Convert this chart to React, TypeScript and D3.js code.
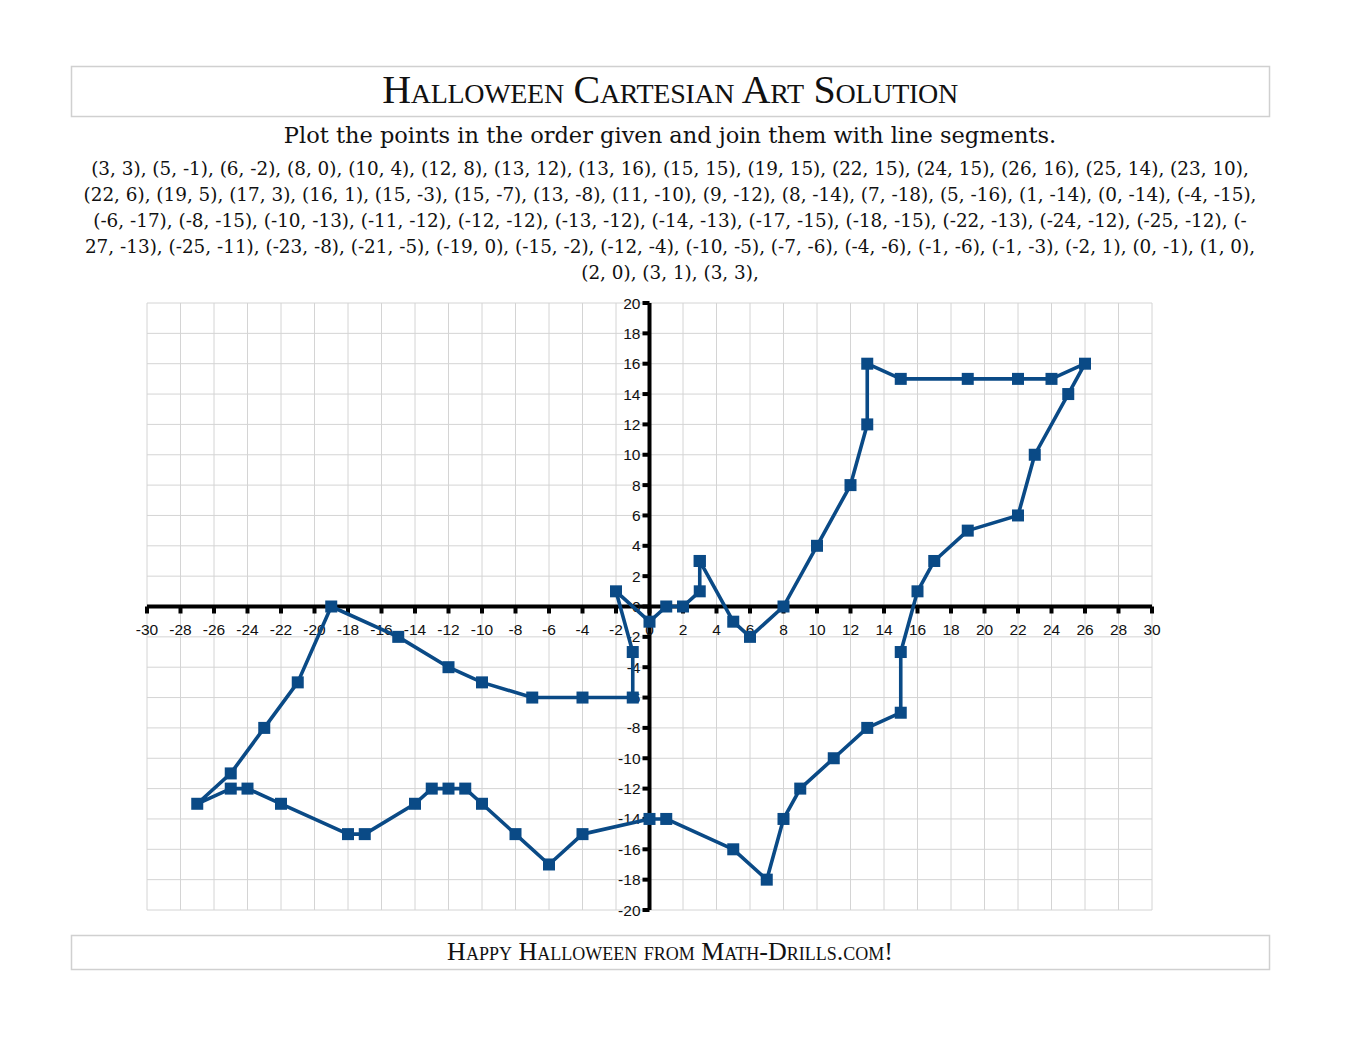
import * as d3 from 'd3';

// points in plotting order (x, y)
const pointsX = [3, 5, 6, 8, 10, 12, 13, 13, 15, 19, 22, 24, 26, 25, 23, 22, 19, 17, 16, 15, 15, 13, 11, 9, 8, 7, 5, 1, 0, -4, -6, -8, -10, -11, -12, -13, -14, -17, -18, -22, -24, -25, -27, -25, -23, -21, -19, -15, -12, -10, -7, -4, -1, -1, -2, 0, 1, 2, 3, 3];
const pointsY = [3, -1, -2, 0, 4, 8, 12, 16, 15, 15, 15, 15, 16, 14, 10, 6, 5, 3, 1, -3, -7, -8, -10, -12, -14, -18, -16, -14, -14, -15, -17, -15, -13, -12, -12, -12, -13, -15, -15, -13, -12, -12, -13, -11, -8, -5, 0, -2, -4, -5, -6, -6, -6, -3, 1, -1, 0, 0, 1, 3];

const xTicks = d3.range(-30, 31, 2);
const yTicks = d3.range(-20, 21, 2);

const titleText = 'Halloween Cartesian Art Solution';
const subtitleText = 'Plot the points in the order given and join them with line segments.';
const footerText = 'Happy Halloween from Math-Drills.com!';
// where the instruction text wraps
const lineBreaks = ['(22, 6)', '(-6, -17)', '27, -13)', '(2, 0)'];

const W = 1346;
const H = 1040;
const plot = { left: 147, right: 1152, top: 303, bottom: 910 };
const blue = '#0a4a86';

export default function App() {
  const x = d3.scaleLinear().domain([-30, 30]).range([plot.left, plot.right]);
  const y = d3.scaleLinear().domain([-20, 20]).range([plot.bottom, plot.top]);
  const pts: [number, number][] = pointsX.map((v, i) => [v, pointsY[i]]);
  const line = d3.line<[number, number]>().x(d => x(d[0])).y(d => y(d[1]));

  // build the coordinate text and split it into lines
  const full = pts.map(p => `(${p[0]}, ${p[1]}),`).join(' ');
  const lines: string[] = [];
  let rest = full;
  lineBreaks.forEach(b => {
    const i = rest.indexOf(b);
    lines.push(rest.slice(0, i).trim());
    rest = rest.slice(i);
  });
  lines.push(rest.trim());

  const x0 = x(0);
  const y0 = y(0);
  const tickFont = "'Liberation Sans', Arial, sans-serif";
  const bodyFont = "'DejaVu Serif', 'Liberation Serif', serif";
  const titleFont = "'Liberation Serif', serif";

  return (
    <div style={{ position: 'absolute', left: 0, top: 0 }}>
      <svg width={W} height={H} style={{ display: 'block', background: '#fff' }}>
        {/* header box */}
        <rect x={71.5} y={66.5} width={1198} height={50} fill="none" stroke="#d0d0d0" strokeWidth={1.5} />
        <text x={670} y={103} textAnchor="middle" fontFamily={titleFont} fontSize={40}
          style={{ fontVariant: 'small-caps' }} fill="#111" letterSpacing={-0.3}>{titleText}</text>
        <text x={670} y={143} textAnchor="middle" fontFamily={bodyFont} fontSize={22.5} fill="#111">{subtitleText}</text>
        {lines.map((l, i) => (
          <text key={i} x={670} y={175 + i * 26} textAnchor="middle" fontFamily={bodyFont}
            fontSize={18.4} fill="#111">{l}</text>
        ))}

        {/* grid */}
        <g stroke="#d4d4d4" strokeWidth={1}>
          {xTicks.map(t => <line key={'gx' + t} x1={x(t)} x2={x(t)} y1={plot.top} y2={plot.bottom} />)}
          {yTicks.map(t => <line key={'gy' + t} x1={plot.left} x2={plot.right} y1={y(t)} y2={y(t)} />)}
        </g>

        {/* axes */}
        <line x1={plot.left} x2={plot.right} y1={y0} y2={y0} stroke="#000" strokeWidth={4} />
        <line x1={x0} x2={x0} y1={plot.top} y2={plot.bottom} stroke="#000" strokeWidth={4} />
        {xTicks.map(t => (
          <rect key={'tx' + t} x={x(t) - 2} y={y0} width={4} height={7} fill="#000" />
        ))}
        {yTicks.map(t => (
          <rect key={'ty' + t} x={x0 - 7} y={y(t) - 2} width={7} height={4} fill="#000" />
        ))}
        <g fontFamily={tickFont} fontSize={15.5} fill="#111">
          {xTicks.map(t => (
            <text key={'lx' + t} x={x(t)} y={y0 + 28} textAnchor="middle">{t}</text>
          ))}
          {yTicks.map(t => (
            <text key={'ly' + t} x={x0 - 9} y={y(t) + 5.5} textAnchor="end">{t}</text>
          ))}
        </g>

        {/* series */}
        <path d={line(pts) || ''} fill="none" stroke={blue} strokeWidth={3.6} strokeLinejoin="round" />
        {pts.map((p, i) => (
          <rect key={'m' + i} x={x(p[0]) - 6} y={y(p[1]) - 6} width={12} height={12} fill={blue} />
        ))}

        {/* footer */}
        <rect x={71.5} y={935.5} width={1198} height={34} fill="none" stroke="#d0d0d0" strokeWidth={1.5} />
        <text x={670} y={960} textAnchor="middle" fontFamily={titleFont} fontSize={26}
          style={{ fontVariant: 'small-caps' }} fill="#111">{footerText}</text>
      </svg>
    </div>
  );
}
